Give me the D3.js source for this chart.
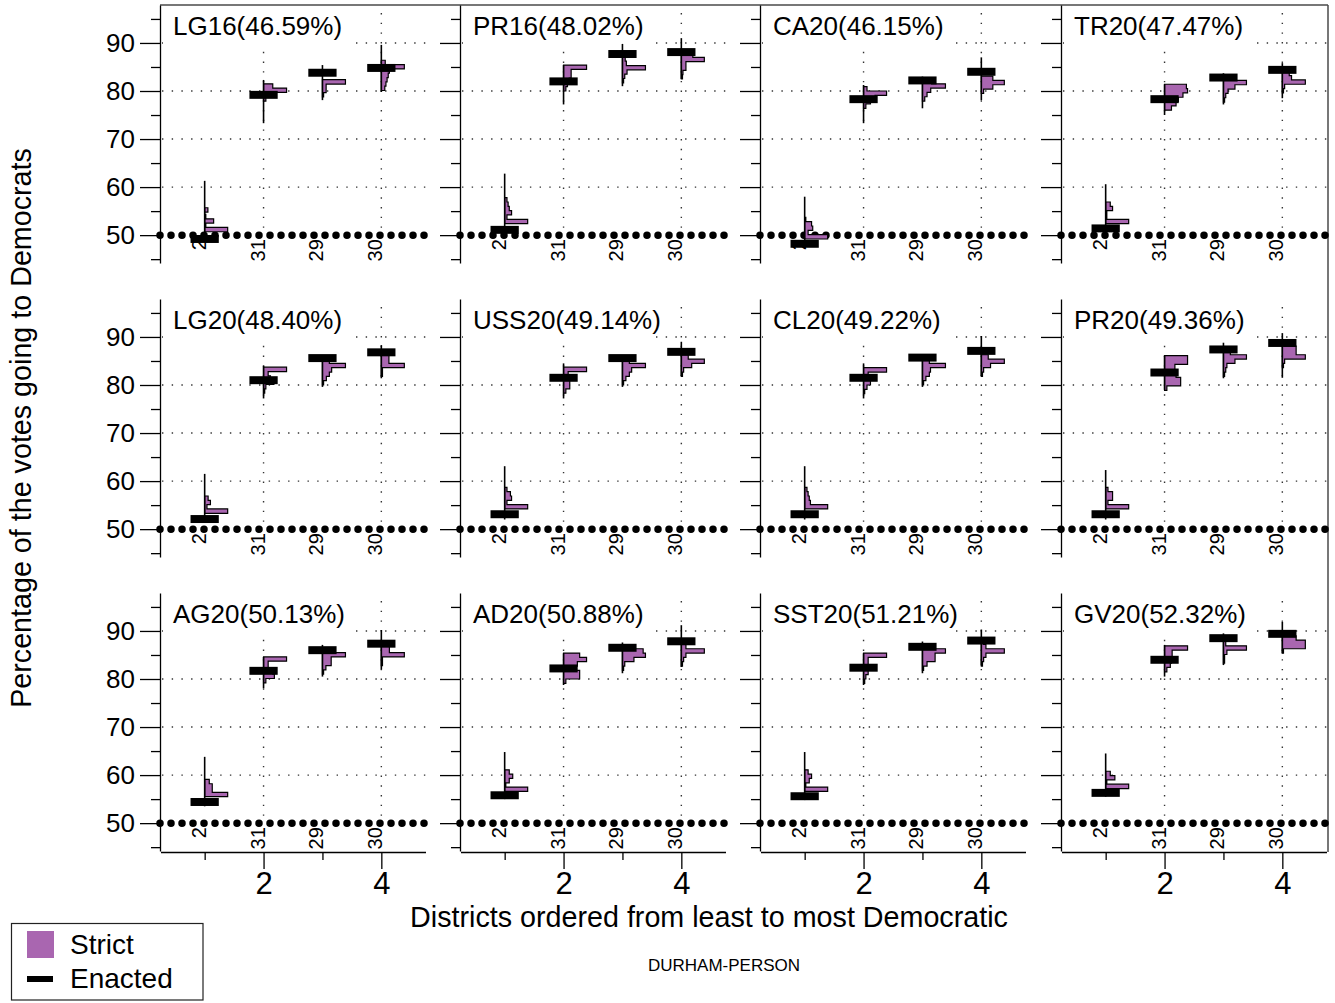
<!DOCTYPE html>
<html lang="en">
<head>
<meta charset="utf-8">
<title>Durham-Person districts</title>
<script src="https://d3js.org/d3.v7.min.js" charset="utf-8"></script>
<style>
 body { margin: 0; background: #fff; }
 text { font-family: "Liberation Sans", Arial, Helvetica, sans-serif; fill: #000; }
</style>
</head>
<body>
<script type="text/javascript">

// Elections shown in the 12 panels, with the statewide Democratic share
var elections = ["LG16", "PR16", "CA20", "TR20",
                 "LG20", "USS20", "CL20", "PR20",
                 "AG20", "AD20", "SST20", "GV20"];
var statewide = [46.59, 48.02, 46.15, 47.47,
                 48.40, 49.14, 49.22, 49.36,
                 50.13, 50.88, 51.21, 52.32];

// District labels, ordered from least to most Democratic
var districtLabels = ["2", "31", "29", "30"];
var positions = [1, 2, 3, 4];

// Enacted plan, Democratic share per district
var enacted = [
    [49.2, 79.2, 83.8, 84.8],
    [51.1, 82.0, 87.7, 88.1],
    [48.2, 78.3, 82.2, 84.0],
    [51.4, 78.3, 82.8, 84.4],
    [52.1, 81.0, 85.6, 86.8],
    [53.1, 81.5, 85.6, 86.9],
    [53.1, 81.5, 85.7, 87.1],
    [53.1, 82.6, 87.4, 88.75],
    [54.4, 81.7, 86.0, 87.35],
    [55.8, 82.2, 86.5, 87.85],
    [55.6, 82.35, 86.7, 88.0],
    [56.3, 84.0, 88.5, 89.4]
];

// Range of the ensemble (whisker) per district
var rangeLo = [
    [49.4, 73.3, 78.1, 79.8],
    [50.3, 77.2, 81.0, 82.5],
    [48.5, 73.3, 76.4, 78.1],
    [50.5, 75.0, 77.2, 78.5],
    [51.3, 77.2, 79.6, 81.4],
    [52.0, 77.2, 79.6, 81.9],
    [52.0, 77.2, 79.6, 81.9],
    [52.0, 79.0, 81.4, 81.5],
    [53.5, 78.1, 80.5, 82.0],
    [55.0, 78.75, 81.2, 82.5],
    [54.8, 78.75, 81.2, 82.8],
    [55.5, 80.5, 82.9, 85.35]
];
var rangeHi = [
    [61.3, 82.3, 85.4, 89.6],
    [62.8, 85.4, 89.8, 91.0],
    [58.0, 81.25, 83.0, 87.0],
    [60.6, 81.4, 83.7, 85.8],
    [61.5, 84.0, 86.25, 88.3],
    [63.1, 84.5, 86.25, 89.0],
    [63.1, 84.5, 86.4, 90.2],
    [62.3, 86.1, 88.8, 90.8],
    [63.8, 84.6, 87.1, 90.2],
    [64.8, 85.35, 87.6, 91.2],
    [64.8, 85.35, 87.8, 90.3],
    [64.5, 87.1, 89.5, 91.9]
];

// Strict ensemble histograms: [bin start, relative count], bins of BIN points
var BIN = 0.9;
var strictHist = [
    [[[50.7,1.0],[51.6,0.05],[52.5,0.39],[53.4,0.05],[54.8,0.14]],
     [[77.9,0.1],[78.8,0.3],[79.7,1.0],[80.6,0.4]],
     [[78.75,0.05],[79.65,0.16],[80.55,0.16],[81.45,1.0]],
     [[80.1,0.15],[81.0,0.2],[81.9,0.25],[82.8,0.3],[83.7,0.35],[84.6,1.0],[85.5,0.17]]],
    [[[52.4,1.0],[53.3,0.1],[54.2,0.3],[55.1,0.2],[56.0,0.15],[56.9,0.1]],
     [[80.0,0.1],[80.9,0.17],[81.8,0.25],[82.7,0.33],[83.6,0.33],[84.5,1.0]],
     [[81.7,0.05],[82.6,0.1],[83.5,0.2],[84.4,1.0],[85.3,0.17],[86.2,0.12]],
     [[82.5,0.05],[83.4,0.07],[84.3,0.2],[85.2,0.2],[86.1,1.0],[87.0,0.5]]],
    [[[49.2,1.0],[50.1,0.15],[51.0,0.35],[51.9,0.3],[52.8,0.05]],
     [[76.4,0.1],[77.3,0.3],[78.2,0.5],[79.1,1.0],[80.0,0.15]],
     [[77.9,0.1],[78.8,0.2],[79.7,0.36],[80.6,1.0],[81.5,0.4]],
     [[79.5,0.1],[80.4,0.5],[81.3,1.0],[82.2,0.5]]],
    [[[52.4,1.0],[53.3,0.05],[54.2,0.05],[55.1,0.3],[56.0,0.2]],
     [[76.0,0.3],[76.9,0.5],[77.8,0.6],[78.7,0.8],[79.6,1.0],[80.5,0.95]],
     [[77.7,0.05],[78.6,0.1],[79.5,0.2],[80.4,0.5],[81.3,1.0]],
     [[79.6,0.05],[80.5,0.1],[81.4,1.0],[82.3,0.4],[83.2,0.3]]],
    [[[53.3,1.0],[54.2,0.1],[55.1,0.25],[56.0,0.15]],
     [[78.3,0.05],[79.2,0.1],[80.1,0.45],[81.0,0.3],[81.9,0.2],[82.8,1.0]],
     [[80.0,0.05],[80.9,0.17],[81.8,0.3],[82.7,0.4],[83.6,1.0],[84.5,0.3]],
     [[81.8,0.05],[82.7,0.05],[83.6,1.0],[84.5,0.33],[85.4,0.33]]],
    [[[54.2,1.0],[55.1,0.1],[56.0,0.3],[56.9,0.25],[57.8,0.1]],
     [[78.3,0.1],[79.2,0.27],[80.1,0.27],[81.0,0.25],[81.9,0.2],[82.8,1.0]],
     [[80.0,0.05],[80.9,0.15],[81.8,0.3],[82.7,0.4],[83.6,1.0],[84.5,0.3]],
     [[81.8,0.05],[82.7,0.1],[83.6,0.45],[84.5,1.0],[85.4,0.3]]],
    [[[54.2,1.0],[55.1,0.25],[56.0,0.2],[56.9,0.15],[57.8,0.1]],
     [[78.2,0.05],[79.1,0.15],[80.0,0.3],[80.9,0.3],[81.8,0.2],[82.7,1.0]],
     [[80.0,0.05],[80.9,0.15],[81.8,0.3],[82.7,0.35],[83.6,1.0],[84.5,0.3]],
     [[81.8,0.05],[82.7,0.1],[83.6,0.4],[84.5,1.0],[85.4,0.3]]],
    [[[54.2,1.0],[55.1,0.1],[56.0,0.3],[56.9,0.3],[57.8,0.1]],
     [[78.9,0.1],[79.8,0.7],[80.7,0.7],[81.6,0.5],[82.5,0.45],[83.4,0.45],[84.3,1.0],[85.2,1.0]],
     [[81.8,0.05],[82.7,0.1],[83.6,0.15],[84.5,0.5],[85.4,1.0],[86.3,0.3]],
     [[83.6,0.05],[84.5,0.1],[85.4,1.0],[86.3,0.6],[87.2,0.6],[88.1,0.1]]],
    [[[55.5,1.0],[56.4,0.33],[57.3,0.33],[58.2,0.2]],
     [[79.2,0.1],[80.1,0.47],[81.0,0.4],[81.9,0.2],[82.8,0.2],[83.7,1.0]],
     [[81.0,0.05],[81.9,0.15],[82.8,0.38],[83.7,0.38],[84.6,1.0],[85.5,0.3]],
     [[82.8,0.05],[83.7,0.05],[84.6,1.0],[85.5,0.35],[86.4,0.35]]],
    [[[56.6,1.0],[57.5,0.05],[58.4,0.2],[59.3,0.35],[60.2,0.2]],
     [[79.1,0.1],[80.0,0.7],[80.9,0.7],[81.8,0.5],[82.7,0.6],[83.6,1.0],[84.5,0.7]],
     [[81.8,0.05],[82.7,0.1],[83.6,0.5],[84.5,1.0],[85.4,0.9]],
     [[82.7,0.05],[83.6,0.1],[84.5,0.2],[85.4,1.0],[86.3,0.2],[87.2,0.1]]],
    [[[56.6,1.0],[57.5,0.05],[58.4,0.2],[59.3,0.3],[60.2,0.15]],
     [[79.1,0.05],[80.0,0.1],[80.9,0.2],[81.8,0.2],[82.7,0.2],[83.6,0.2],[84.5,1.0]],
     [[81.8,0.05],[82.7,0.2],[83.6,0.55],[84.5,0.55],[85.4,1.0],[86.3,0.3]],
     [[82.7,0.05],[83.6,0.1],[84.5,0.2],[85.4,1.0],[86.3,0.2],[87.2,0.1]]],
    [[[57.2,1.0],[58.1,0.05],[59.0,0.4],[59.9,0.2]],
     [[81.5,0.1],[82.4,0.25],[83.3,0.3],[84.2,0.33],[85.1,0.33],[86.0,1.0]],
     [[83.3,0.05],[84.2,0.05],[85.1,0.15],[86.0,1.0],[86.9,0.1],[87.8,0.1]],
     [[85.4,0.05],[86.3,1.0],[87.2,1.0],[88.1,0.6]]]
];

// Axis ticks
var yMinorTicks = [45, 55, 65, 75, 85, 95];
var yMajorTicks = [50, 60, 70, 80, 90];
var gridY = [60, 70, 80, 90];
var xMinorTicks = [1, 3];
var xMajorTicks = [2, 4];
var gridX = [2, 4];

var purple = "#a966b0";

//Layout
var W = 1335, H = 1003;
var colX = [160, 460, 760, 1061];
var rowTop = [5, 299, 593];
var panelW = 265.5, panelH = 258;

var svg = d3.select("body").append("svg")
    .attr("width", W)
    .attr("height", H);

//Outer frame (top and right)
svg.append("line")
    .attr("x1", 160).attr("x2", 1328).attr("y1", 5).attr("y2", 5)
    .attr("stroke", "#4a4a4a").attr("stroke-width", 1.5);
svg.append("line")
    .attr("x1", 1328).attr("x2", 1328).attr("y1", 5).attr("y2", rowTop[2] + panelH + 1)
    .attr("stroke", "#4a4a4a").attr("stroke-width", 1.5);

var wScale = d3.scaleLinear().domain([0, 1]).range([0, 23]);

elections.forEach(function (name, k) {
    var col = k % 4, row = Math.floor(k / 4);
    var x0 = colX[col], top = rowTop[row];

    var xScale = d3.scaleLinear().domain([0.25, 4.75]).range([x0 + 0.5, x0 + panelW]);
    var yScale = d3.scaleLinear().domain([44.2, 97.9]).range([top + panelH, top]);

    var g = svg.append("g");

    //Dotted grid
    g.selectAll(".gh").data(gridY).enter().append("line")
        .attr("x1", x0 + 2).attr("x2", x0 + panelW)
        .attr("y1", function (d) { return yScale(d); })
        .attr("y2", function (d) { return yScale(d); })
        .attr("stroke", "#333").attr("stroke-width", 1.4)
        .attr("stroke-dasharray", "1.4 8.3");
    g.selectAll(".gv").data(gridX).enter().append("line")
        .attr("x1", function (d) { return xScale(d); })
        .attr("x2", function (d) { return xScale(d); })
        .attr("y1", top + 8).attr("y2", yScale(50))
        .attr("stroke", "#333").attr("stroke-width", 1.4)
        .attr("stroke-dasharray", "1.4 8.3");

    //Panel label
    g.append("rect")
        .attr("x", x0 + 3).attr("y", top + 2)
        .attr("width", 192).attr("height", 43)
        .attr("fill", "#fff");
    g.append("text")
        .attr("x", x0 + 13).attr("y", top + 30)
        .attr("font-size", "26px")
        .text(name + "(" + statewide[k].toFixed(2) + "%)");

    //50% line
    g.append("line")
        .attr("x1", x0).attr("x2", x0 + panelW)
        .attr("y1", yScale(50)).attr("y2", yScale(50))
        .attr("stroke", "#000").attr("stroke-width", 7.5)
        .attr("stroke-linecap", "round")
        .attr("stroke-dasharray", "0 11");

    positions.forEach(function (p, i) {
        var xp = xScale(p);
        var bins = strictHist[k][i];

        //Strict histogram, drawn to the right of the district position
        var path = d3.path();
        var prevHi = null;
        path.moveTo(xp, yScale(bins[0][0]));
        bins.forEach(function (b) {
            var lo = b[0], hi = b[0] + BIN;
            if (prevHi !== null && lo > prevHi + 0.01) {
                path.lineTo(xp, yScale(prevHi));
                path.lineTo(xp, yScale(lo));
            }
            path.lineTo(xp + wScale(b[1]), yScale(lo));
            path.lineTo(xp + wScale(b[1]), yScale(hi));
            prevHi = hi;
        });
        path.lineTo(xp, yScale(prevHi));
        path.closePath();
        g.append("path")
            .attr("d", path.toString())
            .attr("fill", purple)
            .attr("stroke", "#000")
            .attr("stroke-width", 1.2)
            .attr("stroke-linejoin", "miter");

        //Ensemble range
        g.append("line")
            .attr("x1", xp).attr("x2", xp)
            .attr("y1", yScale(rangeLo[k][i])).attr("y2", yScale(rangeHi[k][i]))
            .attr("stroke", "#000").attr("stroke-width", 1.6);

        //Enacted value
        g.append("rect")
            .attr("x", xScale(p - 0.24))
            .attr("y", yScale(enacted[k][i] + 0.83))
            .attr("width", xScale(p + 0.24) - xScale(p - 0.24))
            .attr("height", yScale(enacted[k][i] - 0.83) - yScale(enacted[k][i] + 0.83))
            .attr("fill", "#000");

        //District label
        g.append("text")
            .attr("transform", "translate(" + (xp + 1) + "," + (yScale(50) + 4) + ") rotate(-90)")
            .attr("text-anchor", "end")
            .attr("font-size", "20px")
            .text(districtLabels[i]);
    });

    //Y axis
    var yMinor = g.append("g")
        .attr("transform", "translate(" + x0 + ",0)")
        .call(d3.axisLeft(yScale).tickValues(yMinorTicks).tickSize(9).tickSizeOuter(0).tickFormat(""));
    var yMajor = g.append("g")
        .attr("transform", "translate(" + x0 + ",0)")
        .call(d3.axisLeft(yScale).tickValues(yMajorTicks).tickSize(20).tickSizeOuter(0).tickPadding(5)
              .tickFormat(col === 0 ? d3.format("d") : ""));
    yMajor.select(".domain").remove();
    [yMinor, yMajor].forEach(function (a) {
        a.selectAll("line").attr("stroke", "#000").attr("stroke-width", 1.3);
        a.selectAll(".domain").attr("stroke", "#000").attr("stroke-width", 1.3);
        a.selectAll("text").attr("font-size", "26px")
            .attr("font-family", "'Liberation Sans', Arial, sans-serif").attr("fill", "#000");
    });

    //X axis on the bottom row only
    if (row === 2) {
        var yb = top + panelH + 1;
        var xMinor = g.append("g")
            .attr("transform", "translate(0," + yb + ")")
            .call(d3.axisBottom(xScale).tickValues(xMinorTicks).tickSize(8).tickSizeOuter(0).tickFormat(""));
        var xMajor = g.append("g")
            .attr("transform", "translate(0," + yb + ")")
            .call(d3.axisBottom(xScale).tickValues(xMajorTicks).tickSize(17).tickSizeOuter(0).tickPadding(3)
                  .tickFormat(d3.format("d")));
        xMajor.select(".domain").remove();
        [xMinor, xMajor].forEach(function (a) {
            a.selectAll("line").attr("stroke", "#000").attr("stroke-width", 1.3);
            a.selectAll(".domain").attr("stroke", "#000").attr("stroke-width", 1.3);
            a.selectAll("text").attr("font-size", "31px")
                .attr("font-family", "'Liberation Sans', Arial, sans-serif").attr("fill", "#000");
        });
    }
});

//Axis titles
svg.append("text")
    .attr("x", 709).attr("y", 927)
    .attr("text-anchor", "middle")
    .attr("font-size", "28.7px")
    .text("Districts ordered from least to most Democratic");

svg.append("text")
    .attr("transform", "translate(31,428) rotate(-90)")
    .attr("text-anchor", "middle")
    .attr("font-size", "28.7px")
    .text("Percentage of the votes going to Democrats");

svg.append("text")
    .attr("x", 724).attr("y", 971)
    .attr("text-anchor", "middle")
    .attr("font-size", "17px")
    .text("DURHAM-PERSON");

//Legend
var leg = svg.append("g");
leg.append("rect")
    .attr("x", 11.5).attr("y", 923.5).attr("width", 191.5).attr("height", 76.5)
    .attr("fill", "#fff").attr("stroke", "#222").attr("stroke-width", 1.2);
leg.append("rect")
    .attr("x", 27).attr("y", 931).attr("width", 27).attr("height", 27)
    .attr("fill", purple);
leg.append("text")
    .attr("x", 70).attr("y", 954)
    .attr("font-size", "28px")
    .text("Strict");
leg.append("rect")
    .attr("x", 27).attr("y", 976).attr("width", 26).attr("height", 6)
    .attr("fill", "#000");
leg.append("text")
    .attr("x", 70).attr("y", 988)
    .attr("font-size", "28px")
    .text("Enacted");

</script>
</body>
</html>
